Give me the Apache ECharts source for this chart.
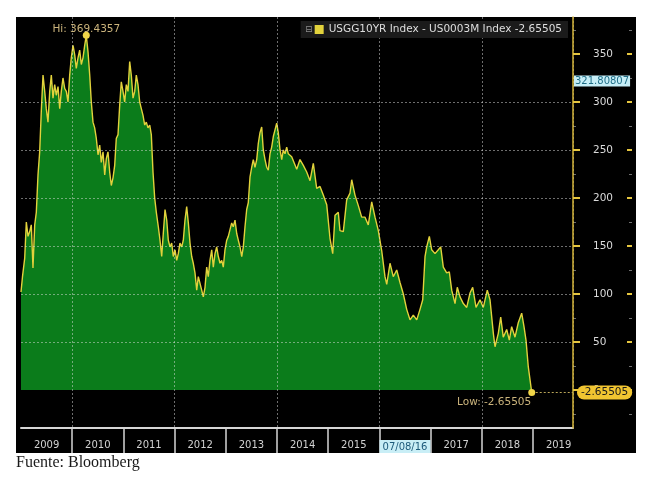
<!DOCTYPE html>
<html><head><meta charset="utf-8">
<script src="https://cdn.jsdelivr.net/npm/echarts/dist/echarts.min.js"></script>
<style>html,body{margin:0;padding:0;background:#fff;}#c{width:650px;height:480px;}</style>
</head><body><div id="c"></div>
<script>
// time in decimal years
const dates = [
2009.000,2009.029,2009.072,2009.104,2009.137,2009.170,2009.201,2009.234,2009.268,2009.299,
2009.332,2009.365,2009.396,2009.430,2009.463,2009.494,2009.527,2009.561,2009.592,2009.625,
2009.658,2009.689,2009.723,2009.756,2009.787,2009.820,2009.854,2009.885,2009.918,2009.951,
2009.982,2010.016,2010.049,2010.080,2010.113,2010.146,2010.178,2010.211,2010.244,2010.275,
2010.309,2010.342,2010.373,2010.406,2010.439,2010.471,2010.504,2010.537,2010.568,2010.602,
2010.635,2010.666,2010.699,2010.732,2010.764,2010.797,2010.830,2010.861,2010.895,2010.928,
2010.959,2010.992,2011.025,2011.057,2011.090,2011.123,2011.154,2011.188,2011.221,2011.252,
2011.285,2011.318,2011.350,2011.383,2011.416,2011.447,2011.480,2011.514,2011.545,2011.578,
2011.611,2011.643,
2011.682,2011.715,2011.748,2011.779,2011.813,2011.846,2011.877,2011.910,2011.943,2011.975,
2012.008,2012.041,2012.072,2012.105,2012.139,2012.170,2012.203,2012.236,2012.268,2012.301,
2012.334,2012.365,2012.398,2012.432,2012.463,2012.496,2012.529,2012.561,2012.594,2012.627,
2012.658,2012.691,2012.725,2012.756,2012.789,2012.822,2012.854,2012.887,2012.920,2012.951,
2012.984,2013.018,2013.049,2013.082,2013.115,2013.146,2013.180,2013.213,2013.244,2013.277,
2013.311,2013.342,2013.375,2013.408,2013.439,2013.473,2013.506,2013.537,2013.570,2013.604,
2013.635,2013.668,2013.701,2013.732,2013.766,2013.799,2013.830,2013.863,2013.896,2013.928,
2013.961,2013.994,2014.025,2014.059,2014.092,2014.123,2014.156,2014.189,2014.221,2014.254,
2014.287,2014.318,
2014.385,2014.449,2014.514,2014.580,2014.645,2014.709,2014.775,2014.840,2014.904,2014.971,
2015.035,2015.088,2015.133,2015.197,2015.230,2015.295,2015.361,2015.426,2015.459,2015.523,
2015.588,2015.654,2015.719,2015.783,2015.850,2015.914,2015.979,2016.045,2016.109,2016.143,
2016.207,2016.271,2016.338,2016.402,2016.467,2016.533,2016.598,2016.662,2016.729,2016.793,
2016.846,2016.891,2016.924,2016.975,2017.021,2017.086,2017.150,2017.197,2017.248,2017.314,
2017.365,2017.412,2017.477,2017.521,2017.574,2017.639,2017.705,2017.770,2017.822,2017.887,
2017.965,2018.029,2018.107,2018.160,2018.225,2018.258,2018.322,2018.369,2018.419,2018.486,
2018.537,2018.583,2018.648,2018.712,2018.779,2018.824,2018.863,2018.908,2018.975
];
// USGG10YR - US0003M spread, basis points
const spread = [
102,118,137,175,160,165,172,127,172,185,
224,248,290,328,311,293,279,311,328,304,
318,307,316,293,311,325,314,311,300,328,
346,359,349,335,346,354,339,346,359,369.4357,
352,328,300,279,273,262,245,255,237,248,
224,241,248,227,213,221,234,262,266,297,
321,311,300,318,311,342,328,304,311,328,
318,300,293,286,276,279,273,276,266,227,
200,185,
170,156,139,163,188,177,156,149,153,139,
146,135,142,153,149,156,177,191,174,153,
139,132,122,104,118,111,104,97,107,128,
118,135,146,128,142,149,139,132,135,128,
146,156,160,167,174,170,177,163,156,149,
139,149,170,188,195,222,232,240,232,240,
257,268,274,250,240,232,229,246,253,264,
271,278,268,250,240,250,246,253,246,248,
243,245,
230,240,234,227,218,236,210,212,203,193,
158,142,182,185,166,165,198,205,219,203,
192,180,180,172,196,180,166,145,118,110,
132,118,125,112,100,84,73,78,73,84,
94,139,149,160,146,142,146,149,128,122,
123,104,90,107,97,90,86,101,107,86,
94,86,104,94,59,45,59,76,55,63,
52,66,55,70,80,66,52,24,-2.65505
];
const yTicks = [0,50,100,150,200,250,300,350];
const yMinorTicks = [-25,25,75,125,175,225,275,325,375];
const cursorLabel = '07/08/16';
const cursorYear = 2016;
const crossValue = 321.80807;
const seriesName = 'USGG10YR Index - US0003M Index';

const xMin = 2009, xMax = 2019.781;
const yMin = -39.6, yMax = 388.5;

let hiIdx = 0, loIdx = 0;
spread.forEach((v,i)=>{ if(v>spread[hiIdx]) hiIdx=i; if(v<spread[loIdx]) loIdx=i; });
const hiVal = spread[hiIdx], loVal = spread[loIdx];
const lastVal = spread[spread.length-1];

const gridLine = {type:[2,2], color:'rgba(220,220,220,0.5)', width:1};
const yellow = '#e2d23c';

function yAxisBase(extra){
  return Object.assign({gridIndex:0, type:'value', position:'right', min:yMin, max:yMax,
    minInterval:50, maxInterval:50, splitNumber:8,
    axisLine:{show:false,onZero:false}, axisLabel:{show:false}, splitLine:{show:false}}, extra);
}

const chart = echarts.init(document.getElementById('c'));
chart.setOption({
  animation:false,
  backgroundColor:'#ffffff',
  textStyle:{fontFamily:'DejaVu Sans'},
  title:{text:'Fuente: Bloomberg', left:16, top:455, padding:0,
    textStyle:{fontFamily:'Liberation Serif', fontSize:16, fontWeight:'normal', color:'#1a1a1a'}},
  graphic:[
    {type:'rect', z:-10, shape:{x:16,y:17,width:620,height:436}, style:{fill:'#000000'}},
    {type:'text', z:20, x:305, y:25, style:{text:'\u229F', fill:'#8c8c8c', fontSize:9, fontFamily:'DejaVu Sans'}}
  ],
  legend:{data:[seriesName], right:82, top:21, icon:'rect', itemWidth:9, itemHeight:9,
    backgroundColor:'#1b1b1b', padding:[3,6,3,14], selectedMode:false,
    formatter: n => n + ' ' + lastVal,
    textStyle:{color:'#dedede', fontSize:10.5, fontFamily:'DejaVu Sans'}},
  grid:[{left:21,right:77,top:17,bottom:52},{left:21,right:77,top:428,height:25}],
  xAxis:[
    {gridIndex:0, type:'value', min:xMin, max:xMax, interval:1, z:3,
      axisLine:{show:false,onZero:false}, axisTick:{show:false}, axisLabel:{show:false},
      splitLine:{show:true, showMinLine:true, lineStyle:{type:[2,2], width:1,
        color:['rgba(0,0,0,0)','rgba(220,220,220,0.5)']}}},
    {gridIndex:1, type:'value', position:'top', min:xMin, max:xMax, interval:1,
      axisLine:{show:true,onZero:false,lineStyle:{color:'#d6d6d6',width:2}},
      axisTick:{show:false},
      axisLabel:{inside:true, margin:12, color:'#d2d2d2', fontSize:10, align:'center',
        padding:[0,0,0,51.2],
        formatter: v => {
          const r = Math.round(v);
          if (Math.abs(v-r) > 1e-6) return '';
          return r === cursorYear ? '{hl|' + cursorLabel + '}' : String(r);
        },
        rich:{hl:{backgroundColor:'#c9eef6', color:'#1d5a7a', fontSize:10, padding:[2,3,1,3]}}},
      splitLine:{show:true, showMinLine:false, showMaxLine:false, lineStyle:{color:'#d6d6d6', width:1.5}}}
  ],
  yAxis:[
    yAxisBase({z:3,
      axisLine:{show:true,onZero:false,lineStyle:{color:'#d4b43a',width:1.5}},
      axisTick:{show:true,length:7,customValues:yTicks,lineStyle:{color:'#e6c640',width:2}},
      axisLabel:{show:true,customValues:yTicks,margin:20,color:'#dadada',fontSize:10.5},
      splitLine:{show:true,showMinLine:false,showMaxLine:false,lineStyle:gridLine}}),
    yAxisBase({offset:59, axisTick:{show:true,inside:true,length:5,customValues:yTicks,lineStyle:{color:'#e6c640',width:2}}}),
    yAxisBase({axisTick:{show:true,length:3,customValues:yMinorTicks,lineStyle:{color:'#707070',width:1}}}),
    yAxisBase({offset:59, axisTick:{show:true,inside:true,length:3,customValues:yMinorTicks,lineStyle:{color:'#707070',width:1}}}),
    {gridIndex:1, type:'value', min:0, max:1, show:false}
  ],
  series:[{
    type:'line', name:seriesName, xAxisIndex:0, yAxisIndex:0, z:2,
    data: dates.map((d,i)=>[d, spread[i]]),
    symbol:'none', showSymbol:false,
    lineStyle:{color:yellow, width:1.4},
    itemStyle:{color:yellow},
    areaStyle:{color:'#0b7c1b', opacity:1},
    markPoint:{symbol:'circle', symbolSize:7, itemStyle:{color:'#f0d548'}, silent:true,
      data:[
        {name:'Hi', coord:[dates[hiIdx], hiVal], value:hiVal,
          label:{show:true, formatter:'Hi: ' + hiVal, position:[3.5,-3], align:'center', verticalAlign:'middle',
            color:'#cbb47c', fontSize:10.5}},
        {name:'Low', coord:[dates[loIdx], loVal], value:loVal,
          label:{show:true, formatter:'Low: ' + loVal, position:[3,13.5], align:'right', verticalAlign:'middle',
            color:'#cbb47c', fontSize:10.5}}
      ]},
    markLine:{symbol:['none','none'], silent:true,
      data:[
        [{coord:[dates[loIdx], loVal],
          lineStyle:{type:[2,2], color:'#b9a558', width:1},
          label:{show:true, position:'end', distance:4, formatter:String(loVal),
            backgroundColor:'#f1c531', color:'#1a1a1a', fontSize:10.5, padding:[2,4,1,4], borderRadius:8}},
         {coord:[xMax, loVal]}],
        [{coord:[xMin, crossValue],
          lineStyle:{color:'rgba(0,0,0,0)', width:1},
          label:{show:true, position:'end', distance:1, formatter:String(crossValue),
            backgroundColor:'#c6eef7', color:'#1f6d86', fontSize:10, padding:[1,1,0,1]}},
         {coord:[xMax, crossValue]}]
      ]}
  }]
});
</script></body></html>
